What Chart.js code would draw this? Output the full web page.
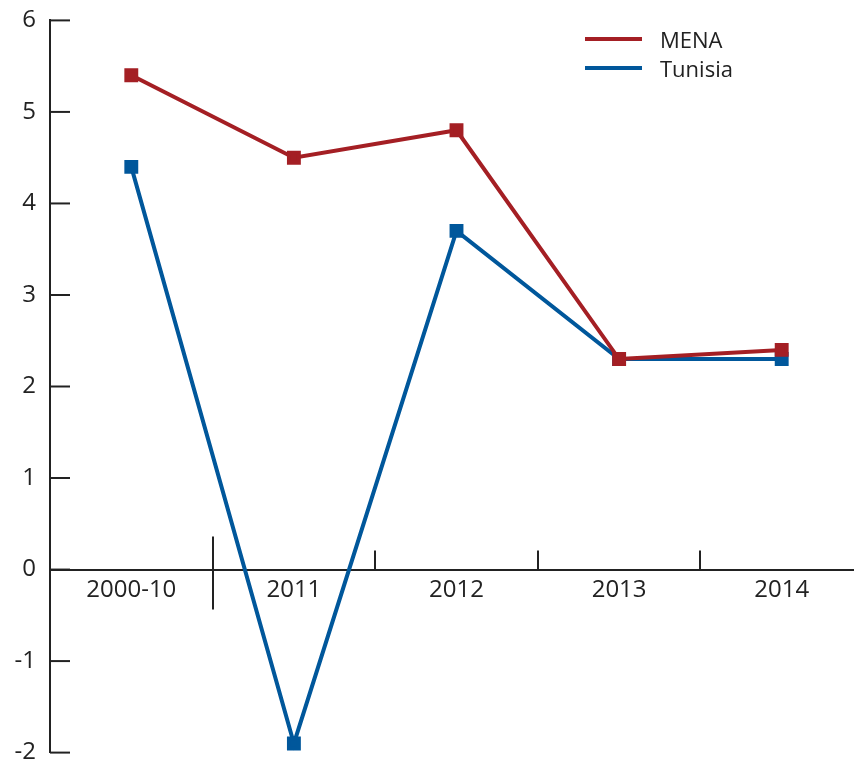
<!DOCTYPE html>
<html>
<head>
<meta charset="utf-8">
<script src="https://cdn.jsdelivr.net/npm/chart.js@4/dist/chart.umd.min.js"></script>
<style>
    html, body { margin: 0; padding: 0; background: #fff; overflow: hidden; }
    #wrap { position: relative; width: 874px; height: 767px; overflow: hidden; }
    #chart { position: absolute; left: 0; top: -8px; }
    .legend { position: absolute; left: 585px; top: 24px; font-family: "Open Sans", sans-serif; font-size: 22px; color: #222; }
    .legend div { display: flex; align-items: center; height: 29px; }
    .legend span.sw { display: inline-block; width: 57px; height: 4px; margin-right: 18px; }
</style>
</head>
<body>
<div id="wrap">
    <canvas id="chart" width="874" height="789"></canvas>
    <div class="legend">
        <div><span class="sw" style="background:#a41f24"></span>MENA</div>
        <div><span class="sw" style="background:#00579b"></span>Tunisia</div>
    </div>
</div>
<script>
// data
const categories = ['2000-10', '2011', '2012', '2013', '2014'];
const menaValues = [5.4, 4.5, 4.8, 2.3, 2.4];
const tunisiaValues = [4.4, -1.9, 3.7, 2.3, 2.3];
const yTicks = [-2, -1, 0, 1, 2, 3, 4, 5, 6];

const RED = '#a41f24';
const BLUE = '#00579b';

// tick marks inside the axes + dividers between categories
const axisMarks = {
    id: 'axisMarks',
    afterDraw(chart) {
        const ctx = chart.ctx;
        const x = chart.scales.x, y = chart.scales.y;
        const left = chart.chartArea.left;
        const y0 = y.getPixelForValue(0);
        ctx.save();
        ctx.strokeStyle = '#222';
        ctx.lineWidth = 2;
        yTicks.forEach(v => {
            const py = y.getPixelForValue(v);
            ctx.beginPath();
            ctx.moveTo(left, py);
            ctx.lineTo(left + 20, py);
            ctx.stroke();
        });
        for (let i = 0; i < categories.length - 1; i++) {
            const px = Math.round((x.getPixelForValue(i) + x.getPixelForValue(i + 1)) / 2);
            ctx.beginPath();
            if (i === 0) {
                ctx.moveTo(px, y0 - 33);
                ctx.lineTo(px, y0 + 40);
            } else {
                ctx.moveTo(px, y0 - 19);
                ctx.lineTo(px, y0);
            }
            ctx.stroke();
        }
        ctx.restore();
    }
};

new Chart(document.getElementById('chart'), {
    type: 'line',
    data: {
        labels: categories,
        datasets: [
            { label: 'MENA', data: menaValues, borderColor: RED, backgroundColor: RED, borderWidth: 4,
              pointStyle: 'rect', pointRadius: 7, pointHoverRadius: 7, tension: 0 },
            { label: 'Tunisia', data: tunisiaValues, borderColor: BLUE, backgroundColor: BLUE, borderWidth: 4,
              pointStyle: 'rect', pointRadius: 7, pointHoverRadius: 7, tension: 0 }
        ]
    },
    options: {
        responsive: false,
        animation: false,
        layout: { padding: { top: 11, bottom: 0, right: 0, left: 0 } },
        plugins: { legend: { display: false }, tooltip: { enabled: false } },
        scales: {
            x: {
                type: 'category',
                offset: true,
                position: { y: 0 },
                grid: { display: false, drawTicks: false },
                border: { display: true, color: '#222', width: 2 },
                ticks: { color: '#222', padding: 6, font: { family: 'Open Sans', size: 24 } }
            },
            y: {
                min: -2,
                max: 6,
                afterFit: s => { s.width = 50; },
                afterBuildTicks: s => { s.ticks = yTicks.map(v => ({ value: v })); },
                grid: { display: false, drawTicks: false },
                border: { display: true, color: '#222', width: 2 },
                ticks: { color: '#222', padding: 14, font: { family: 'Open Sans', size: 24 } }
            }
        }
    },
    plugins: [axisMarks]
});
</script>
</body>
</html>
